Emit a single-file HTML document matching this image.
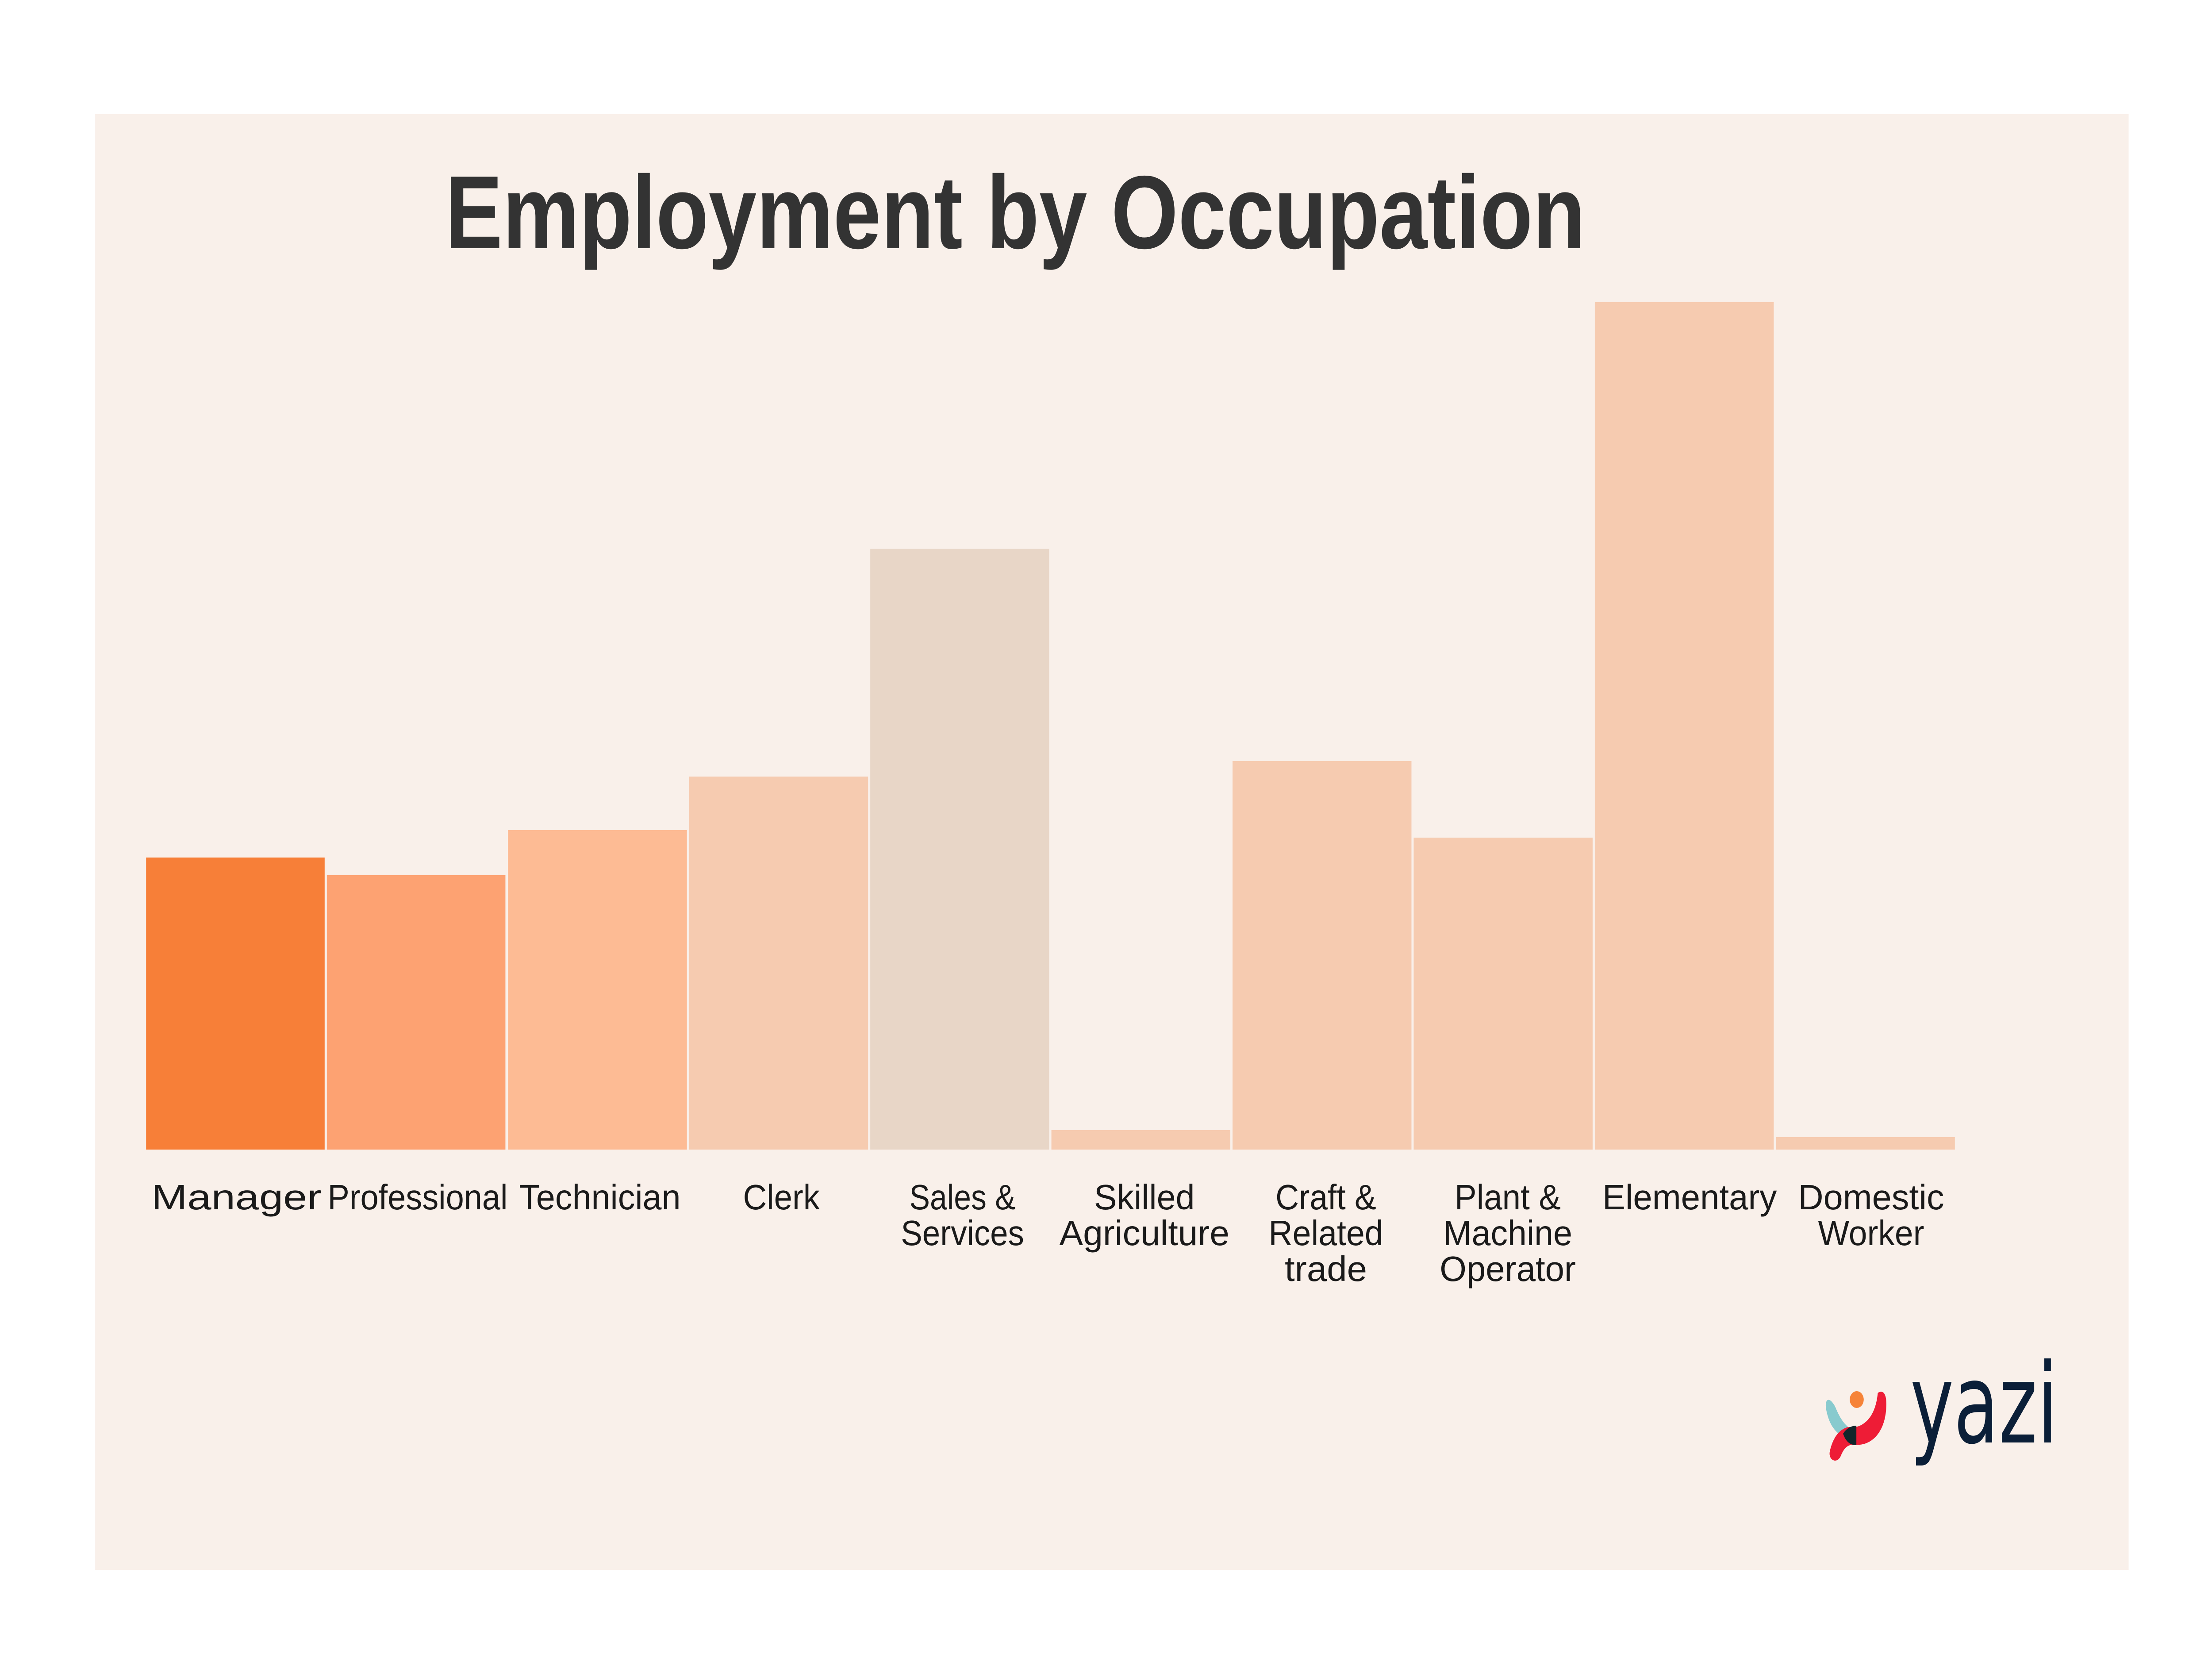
<!DOCTYPE html>
<html><head><meta charset="utf-8"><style>
html,body{margin:0;padding:0;background:#fff;width:100%;height:100%;overflow:hidden;}
svg{display:block;position:absolute;left:0;top:0;width:100vw;height:100vh;}
</style></head><body>
<svg viewBox="0 0 5996 3790" preserveAspectRatio="none" xmlns="http://www.w3.org/2000/svg">
<rect x="0" y="0" width="5996" height="3790" fill="#ffffff"/>
<rect x="258" y="258" width="5512" height="3290" fill="#F9F0EA"/>
<text x="2752" y="561" text-anchor="middle" font-family="Liberation Sans, sans-serif" font-weight="bold" font-size="235" fill="#333333" textLength="3091" lengthAdjust="spacingAndGlyphs">Employment by Occupation</text>
<g>
<rect x="396" y="1938" width="484" height="660" fill="#F77F38"/>
<rect x="886" y="1978" width="484" height="620" fill="#FDA272"/>
<rect x="1377" y="1876" width="485" height="722" fill="#FDBB94"/>
<rect x="1868" y="1755" width="485" height="843" fill="#F6CBB0"/>
<rect x="2359" y="1240" width="485" height="1358" fill="#E8D6C7"/>
<rect x="2850" y="2554" width="485" height="44" fill="#F6CBB0"/>
<rect x="3341" y="1720" width="485" height="878" fill="#F6CBB0"/>
<rect x="3832" y="1893" width="485" height="705" fill="#F6CBB0"/>
<rect x="4323" y="683" width="485" height="1915" fill="#F6CBB0"/>
<rect x="4814" y="2570" width="485" height="28" fill="#F6CBB0"/>
</g>
<g font-family="Liberation Sans, sans-serif" font-size="80" fill="#1a1a1a" text-anchor="middle" lengthAdjust="spacingAndGlyphs">
<text x="641" y="2733" textLength="461" lengthAdjust="spacingAndGlyphs">Manager</text>
<text x="1132" y="2733" textLength="488" lengthAdjust="spacingAndGlyphs">Professional</text>
<text x="1626" y="2733" textLength="438" lengthAdjust="spacingAndGlyphs">Technician</text>
<text x="2118" y="2733" textLength="208" lengthAdjust="spacingAndGlyphs">Clerk</text>
<text x="2609" y="2733" textLength="288" lengthAdjust="spacingAndGlyphs">Sales &amp;</text>
<text x="2609" y="2814" textLength="334" lengthAdjust="spacingAndGlyphs">Services</text>
<text x="3102" y="2733" textLength="273" lengthAdjust="spacingAndGlyphs">Skilled</text>
<text x="3102" y="2814" textLength="461" lengthAdjust="spacingAndGlyphs">Agriculture</text>
<text x="3594" y="2733" textLength="273" lengthAdjust="spacingAndGlyphs">Craft &amp;</text>
<text x="3594" y="2814" textLength="311" lengthAdjust="spacingAndGlyphs">Related</text>
<text x="3594" y="2895" textLength="223" lengthAdjust="spacingAndGlyphs">trade</text>
<text x="4087" y="2733" textLength="288" lengthAdjust="spacingAndGlyphs">Plant &amp;</text>
<text x="4087" y="2814" textLength="350" lengthAdjust="spacingAndGlyphs">Machine</text>
<text x="4087" y="2895" textLength="369" lengthAdjust="spacingAndGlyphs">Operator</text>
<text x="4580" y="2733" textLength="473" lengthAdjust="spacingAndGlyphs">Elementary</text>
<text x="5072" y="2733" textLength="396" lengthAdjust="spacingAndGlyphs">Domestic</text>
<text x="5072" y="2814" textLength="288" lengthAdjust="spacingAndGlyphs">Worker</text>
</g>
<g>
<path d="M4975 3180 C4960 3155 4945 3160 4950 3185 C4958 3220 4975 3240 5005 3250 L5010 3225 C4995 3215 4985 3200 4975 3180 Z" fill="#88CACE"/>
<path d="M5090 3148 C5105 3140 5115 3150 5113 3180 C5110 3240 5070 3268 5030 3265 C5010 3264 5000 3270 4990 3290 C4980 3310 4955 3300 4960 3280 C4968 3250 4985 3230 5010 3225 L5030 3225 C5060 3220 5085 3195 5090 3148 Z" fill="#EE1C36"/>
<path d="M4996 3240 C5005 3228 5018 3222 5032 3222 L5032 3266 C5015 3266 5003 3258 4996 3240 Z" fill="#10262B"/>
<circle cx="5033" cy="3163" r="19" fill="#F68338"/>
</g>
<text x="5178" y="3260" font-family="DejaVu Sans, Liberation Sans, sans-serif" font-size="250" fill="#0B1F38" textLength="400" lengthAdjust="spacingAndGlyphs">yazi</text>
</svg>
</body></html>
